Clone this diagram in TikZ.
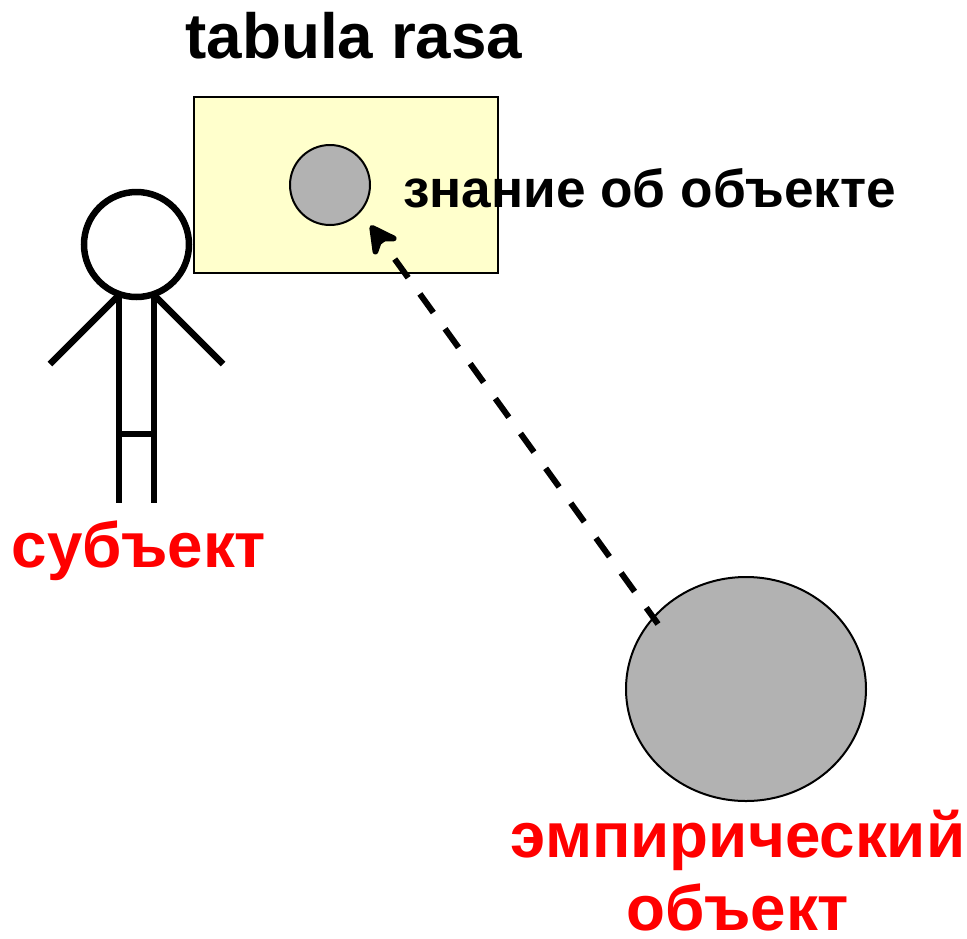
\documentclass[tikz,border=0pt]{standalone}
\usepackage{fontspec}
\setmainfont{Liberation Sans}
\usetikzlibrary{arrows.meta,shapes.geometric}
\tikzset{
  blacklabel/.style={font=\fontsize{53.2}{53.2}\selectfont\bfseries,text=black,inner sep=0pt},
  titlelabel/.style={font=\fontsize{63.8}{63.8}\selectfont\bfseries,text=black,inner sep=0pt},
  redlabel/.style={font=\fontsize{63.7}{73}\selectfont\bfseries,text=red,inner sep=0pt,align=center},
}
\definecolor{notepaper}{RGB}{255,255,204}
\definecolor{blobgray}{RGB}{178,178,178}
\begin{document}
\begin{tikzpicture}[x=1pt,y=-1pt]
  \useasboundingbox (0,0) rectangle (967,938);
  \node [draw,fill=notepaper,line width=2pt,minimum width=304pt,minimum height=176pt,inner sep=0pt] (A) at (346,185) {};
  \node [draw,circle,fill=blobgray,line width=2pt,minimum size=80pt,inner sep=0pt] (B) at (330,185) {};
  \node [draw,ellipse,fill=blobgray,line width=2pt,minimum width=240pt,minimum height=224pt,inner sep=0pt] (C) at (746,689) {};
  \node [draw,circle,line width=6.5pt,minimum size=105pt,inner sep=0pt] (H) at (136.5,244.5) {};
  \coordinate (L1) at (119,295);
  \coordinate (L2) at (119,503);
  \coordinate (R1) at (154,295);
  \coordinate (R2) at (154,503);
  \coordinate (HL) at (50,364);
  \coordinate (HR) at (223,364);
  \coordinate (K1) at (119,434);
  \coordinate (K2) at (154,434);
  \coordinate (T) at (658,624);
  \coordinate (P) at (370.5,225.5);
  \draw [line width=6.5pt] (L1) -- (L2);
  \draw [line width=6.5pt] (R1) -- (R2);
  \draw [line width=6.5pt] (L1) -- (HL);
  \draw [line width=6.5pt] (R1) -- (HR);
  \draw [line width=6.5pt] (K1) -- (K2);
  \draw [line width=6pt,dash pattern=on 23pt off 20pt,dash phase=3pt,-{Stealth[round,length=36pt,width=38pt,inset=13pt,line width=6pt]}] (T) -- (P);
  \node [titlelabel] (title) at (354,36) {tabula rasa};
  \node [blacklabel] (know) at (649.5,188) {знание об объекте};
  \node [redlabel] (subj) at (139,551) {субъект};
  \node [redlabel] (obj) at (738,871) {эмпирический\\объект};
\end{tikzpicture}
\end{document}
